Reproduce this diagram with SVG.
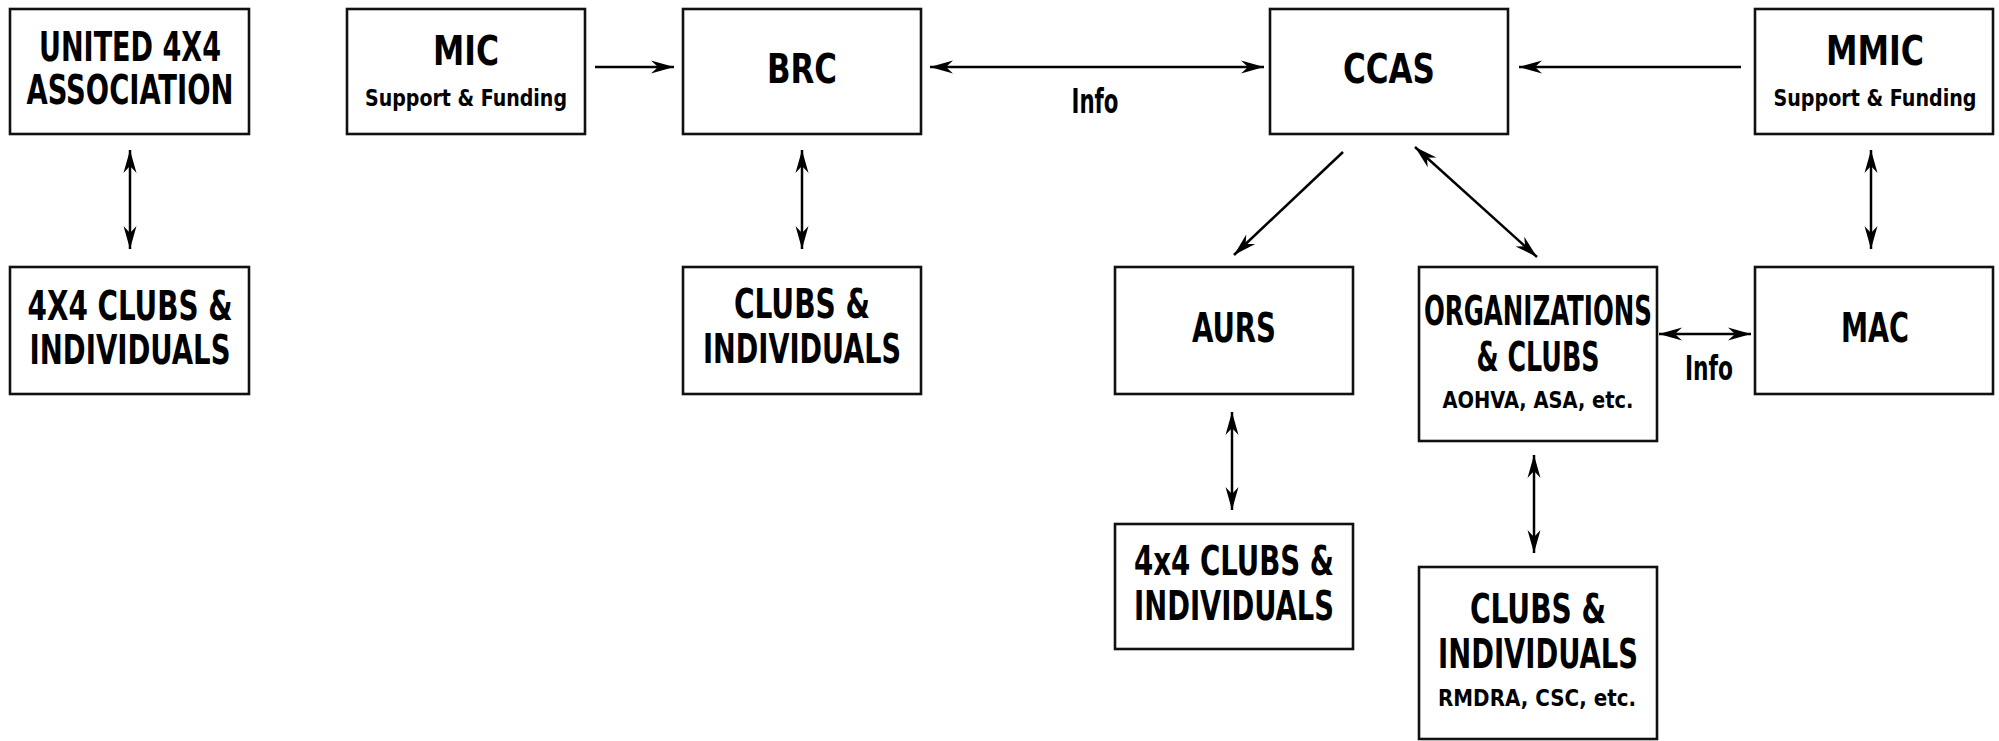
<svg xmlns="http://www.w3.org/2000/svg" width="1999" height="741" viewBox="0 0 1999 741">
<style>
.box{fill:#fff;stroke:#111;stroke-width:2.6}
.t{font-family:"Liberation Sans Narrow","DejaVu Sans Condensed","Liberation Sans",sans-serif;font-weight:bold;fill:#000;text-anchor:middle;font-size:40px}
.s{font-size:23px}
.i{font-size:33px}
.c{fill:none;stroke:#000;stroke-width:2.5}
</style>
<defs>
<marker id="ah" markerUnits="userSpaceOnUse" viewBox="-24 -8 26 16" refX="0" refY="0" markerWidth="26" markerHeight="16" orient="auto-start-reverse">
<path d="M0,0 L-23,-6.5 L-16,0 L-23,6.5 Z" fill="#000"/>
</marker>
</defs>
<rect width="1999" height="741" fill="#fff"/>
<g id="connectors">
<line class="c" x1="130" y1="150" x2="130" y2="249" marker-start="url(#ah)" marker-end="url(#ah)"/>
<line class="c" x1="595" y1="67" x2="674" y2="67" marker-end="url(#ah)"/>
<line class="c" x1="930" y1="67" x2="1264" y2="67" marker-start="url(#ah)" marker-end="url(#ah)"/>
<line class="c" x1="1741" y1="67" x2="1519" y2="67" marker-end="url(#ah)"/>
<line class="c" x1="802" y1="150" x2="802" y2="249" marker-start="url(#ah)" marker-end="url(#ah)"/>
<line class="c" x1="1343" y1="152" x2="1234" y2="255" marker-end="url(#ah)"/>
<line class="c" x1="1415" y1="147" x2="1537" y2="257" marker-start="url(#ah)" marker-end="url(#ah)"/>
<line class="c" x1="1871" y1="150" x2="1871" y2="249" marker-start="url(#ah)" marker-end="url(#ah)"/>
<line class="c" x1="1659" y1="334" x2="1751" y2="334" marker-start="url(#ah)" marker-end="url(#ah)"/>
<line class="c" x1="1232" y1="412" x2="1232" y2="510" marker-start="url(#ah)" marker-end="url(#ah)"/>
<line class="c" x1="1534" y1="455" x2="1534" y2="553" marker-start="url(#ah)" marker-end="url(#ah)"/>
<text class="t i" x="1095" y="113" textLength="47" lengthAdjust="spacingAndGlyphs">Info</text>
<text class="t i" x="1709" y="380" textLength="48" lengthAdjust="spacingAndGlyphs">Info</text>
</g>
<g id="united">
<rect class="box" x="10" y="9" width="239" height="125"/>
<text class="t" x="130" y="61" textLength="182" lengthAdjust="spacingAndGlyphs">UNITED 4X4</text>
<text class="t" x="130" y="104" textLength="207" lengthAdjust="spacingAndGlyphs">ASSOCIATION</text>
</g>
<g id="clubs4x4-left">
<rect class="box" x="10" y="267" width="239" height="127"/>
<text class="t" x="130" y="320" textLength="205" lengthAdjust="spacingAndGlyphs">4X4 CLUBS &amp;</text>
<text class="t" x="130" y="364" textLength="201" lengthAdjust="spacingAndGlyphs">INDIVIDUALS</text>
</g>
<g id="mic">
<rect class="box" x="347" y="9" width="238" height="125"/>
<text class="t" x="466" y="65" textLength="66" lengthAdjust="spacingAndGlyphs">MIC</text>
<text class="t s" x="466" y="106" textLength="202" lengthAdjust="spacingAndGlyphs">Support &amp; Funding</text>
</g>
<g id="brc">
<rect class="box" x="683" y="9" width="238" height="125"/>
<text class="t" x="802" y="83" textLength="70" lengthAdjust="spacingAndGlyphs">BRC</text>
</g>
<g id="brc-clubs">
<rect class="box" x="683" y="267" width="238" height="127"/>
<text class="t" x="802" y="318" textLength="136" lengthAdjust="spacingAndGlyphs">CLUBS &amp;</text>
<text class="t" x="802" y="363" textLength="198" lengthAdjust="spacingAndGlyphs">INDIVIDUALS</text>
</g>
<g id="ccas">
<rect class="box" x="1270" y="9" width="238" height="125"/>
<text class="t" x="1389" y="83" textLength="92" lengthAdjust="spacingAndGlyphs">CCAS</text>
</g>
<g id="mmic">
<rect class="box" x="1755" y="9" width="238" height="125"/>
<text class="t" x="1875" y="65" textLength="98" lengthAdjust="spacingAndGlyphs">MMIC</text>
<text class="t s" x="1875" y="106" textLength="203" lengthAdjust="spacingAndGlyphs">Support &amp; Funding</text>
</g>
<g id="aurs">
<rect class="box" x="1115" y="267" width="238" height="127"/>
<text class="t" x="1234" y="342" textLength="84" lengthAdjust="spacingAndGlyphs">AURS</text>
</g>
<g id="organizations">
<rect class="box" x="1419" y="267" width="238" height="174"/>
<text class="t" x="1538" y="325" textLength="228" lengthAdjust="spacingAndGlyphs">ORGANIZATIONS</text>
<text class="t" x="1538" y="371" textLength="123" lengthAdjust="spacingAndGlyphs">&amp; CLUBS</text>
<text class="t s" x="1538" y="408" textLength="191" lengthAdjust="spacingAndGlyphs">AOHVA, ASA, etc.</text>
</g>
<g id="mac">
<rect class="box" x="1755" y="267" width="238" height="127"/>
<text class="t" x="1875" y="342" textLength="68" lengthAdjust="spacingAndGlyphs">MAC</text>
</g>
<g id="aurs-clubs">
<rect class="box" x="1115" y="524" width="238" height="125"/>
<text class="t" x="1234" y="575" textLength="200" lengthAdjust="spacingAndGlyphs">4x4 CLUBS &amp;</text>
<text class="t" x="1234" y="620" textLength="200" lengthAdjust="spacingAndGlyphs">INDIVIDUALS</text>
</g>
<g id="org-clubs">
<rect class="box" x="1419" y="567" width="238" height="172"/>
<text class="t" x="1538" y="623" textLength="136" lengthAdjust="spacingAndGlyphs">CLUBS &amp;</text>
<text class="t" x="1538" y="668" textLength="200" lengthAdjust="spacingAndGlyphs">INDIVIDUALS</text>
<text class="t s" x="1537" y="706" textLength="198" lengthAdjust="spacingAndGlyphs">RMDRA, CSC, etc.</text>
</g>
</svg>
